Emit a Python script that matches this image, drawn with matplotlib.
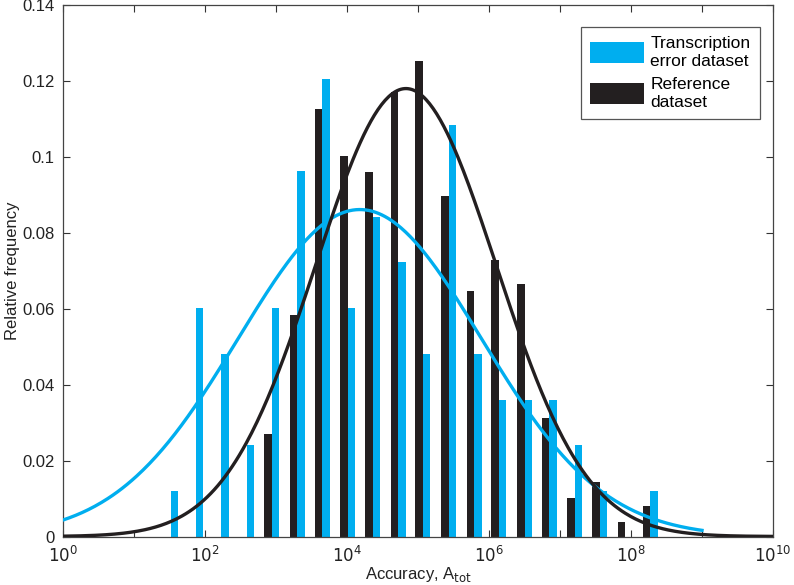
import numpy as np
import matplotlib
matplotlib.use("Agg")
import matplotlib.pyplot as plt

plt.rcParams["font.family"] = ["Liberation Sans", "DejaVu Sans"]

# log10 of the left edge of each bin pair (black bar left, blue bar right)
bin_log_edges = [1.52, 1.87, 2.23, 2.59, 2.94, 3.30, 3.65, 4.01, 4.36, 4.72,
                 5.07, 5.43, 5.79, 6.14, 6.50, 6.85, 7.21, 7.56, 7.92, 8.27]

# relative frequencies
transcription_freq = [0.0120, 0.0602, 0.0482, 0.0241, 0.0602, 0.0964, 0.1205,
                      0.0602, 0.0843, 0.0723, 0.0482, 0.1084, 0.0482, 0.0361,
                      0.0361, 0.0361, 0.0241, 0.0120, 0.0, 0.0120]
reference_freq = [0.0, 0.0, 0.0, 0.0, 0.0270, 0.0583, 0.1128, 0.1002, 0.0960,
                  0.1172, 0.1254, 0.0898, 0.0647, 0.0730, 0.0667, 0.0312,
                  0.0102, 0.0143, 0.0039, 0.0081]

# fitted log-normal curves: (mean of log10, sd of log10, peak height, log10 range)
transcription_fit = dict(mu=4.18, sigma=1.71, peak=0.0862, lo=0.0, hi=9.0)
reference_fit = dict(mu=4.83, sigma=1.27, peak=0.1181, lo=0.0, hi=10.0)

BLUE = "#00AEEF"
BLACK = "#231F20"

fig = plt.figure(figsize=(7.94, 5.85), dpi=100)
ax = fig.add_axes([0.0793, 0.0829, 0.8943, 0.9077])

bar_w = 0.106  # bar width in decades
edges = np.array(bin_log_edges)
lo_black = 10 ** (edges - bar_w)
hi_black = 10 ** edges
lo_blue = 10 ** edges
hi_blue = 10 ** (edges + bar_w)

ax.bar(lo_blue, transcription_freq, width=hi_blue - lo_blue, align="edge",
       color=BLUE, linewidth=0, label="Transcription\nerror dataset", zorder=2)
ax.bar(lo_black, reference_freq, width=hi_black - lo_black, align="edge",
       color=BLACK, linewidth=0, label="Reference\ndataset", zorder=2)

for fit, col in [(transcription_fit, BLUE), (reference_fit, BLACK)]:
    lx = np.linspace(fit["lo"], fit["hi"], 400)
    y = fit["peak"] * np.exp(-0.5 * ((lx - fit["mu"]) / fit["sigma"]) ** 2)
    ax.plot(10 ** lx, y, color=col, linewidth=2.4, zorder=3)

ax.set_xscale("log")
ax.set_xlim(1, 1e10)
ax.set_ylim(0, 0.14)

decades = np.arange(0, 11)
ax.set_xticks(10.0 ** decades)
ax.set_xticklabels([f"$10^{{{d}}}$" if d % 2 == 0 else "" for d in decades])
ax.xaxis.set_minor_locator(matplotlib.ticker.NullLocator())
yt = [0, 0.02, 0.04, 0.06, 0.08, 0.1, 0.12, 0.14]
ax.set_yticks(yt)
ax.set_yticklabels(["0", "0.02", "0.04", "0.06", "0.08", "0.1", "0.12", "0.14"])

ax.tick_params(direction="in", length=5, width=0.8, top=True, right=True,
               colors="#333333", labelcolor="#222222")
ax.tick_params(axis="y", labelsize=12, pad=6)
ax.tick_params(axis="x", labelsize=12, pad=6)
for s in ax.spines.values():
    s.set_color("#444444")
    s.set_linewidth(0.9)

ax.set_xlabel("Accuracy, A$_{\\mathrm{tot}}$", fontsize=12, color="#222222")
ax.xaxis.set_label_coords(0.5, -0.072, transform=ax.transAxes)
ax.xaxis.label.set_va("center")
ax.set_ylabel("Relative frequency", fontsize=12, color="#222222")
ax.yaxis.set_label_coords(-0.060, 0.5)

leg = ax.legend(loc="upper right", bbox_to_anchor=(0.9817, 0.9603),
                borderaxespad=0, fontsize=12.5, handlelength=3.1,
                handleheight=1.5, fancybox=False, framealpha=1,
                labelspacing=0.5, handletextpad=0.35, borderpad=0.55)
leg.get_frame().set_edgecolor("#555555")
leg.get_frame().set_linewidth(0.9)

fig.savefig("out.png", dpi=100)
